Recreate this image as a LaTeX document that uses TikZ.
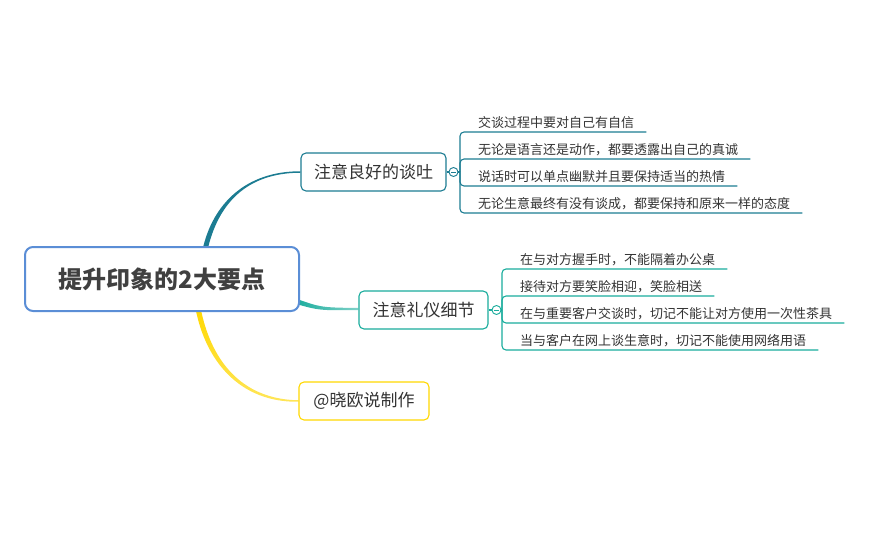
\documentclass[tikz,border=0pt]{standalone}
\usepackage{fontspec}
\setmainfont{Noto Sans CJK SC}
\usetikzlibrary{backgrounds}
\definecolor{rootblue}{HTML}{5B8ED6}
\definecolor{tone}{HTML}{1C7C92}
\definecolor{ttwo}{HTML}{19AC9C}
\definecolor{yel}{HTML}{FFD800}
\definecolor{txtc}{HTML}{333333}
\definecolor{roottxt}{HTML}{404040}
\tikzset{
  rootbox/.style={draw=rootblue, line width=2pt, fill=white, rounded corners=8pt,
    minimum width=274pt, minimum height=64pt, inner sep=0pt,
    font=\bfseries\fontsize{24}{28}\selectfont, text=roottxt},
  branchbox/.style={line width=1.1pt, fill=white, rounded corners=5pt,
    minimum height=38pt, inner sep=0pt, font=\fontsize{17}{20}\selectfont, text=txtc},
  collapse/.style={circle, fill=white, line width=0.9pt, minimum size=9pt, inner sep=0pt},
  subitem/.style={inner xsep=0pt, inner ysep=3.4pt, anchor=south west,
    font=\fontsize{13}{15}\selectfont, text=txtc},
  subline/.style={line width=1.1pt, rounded corners=4pt},
}
\begin{document}
\begin{tikzpicture}[x=1pt,y=-1pt]
\useasboundingbox (0,0) rectangle (870,540);

% nodes
\node[rootbox] (root) at (162,279) {提升印象的2大要点};
\node[branchbox, draw=tone, minimum width=145pt] (b1) at (373.5,172) {注意良好的谈吐};
\node[branchbox, draw=ttwo, minimum width=129pt] (b2) at (423.5,310) {注意礼仪细节};
\node[branchbox, draw=yel, minimum width=130pt] (b3) at (364,401) {@晓欧说制作};

% tapered branch connectors
\begin{scope}[on background layer]
\fill[tone] (202.6,249.4) .. controls (212.6,204.5) and (245,171.2) .. (b1.west |- 0,171.25)
  -- (b1.west |- 0,172.75) .. controls (245,172.8) and (217.4,205.5) .. (207.4,250.6) -- cycle;
\shade[left color=ttwo, right color=ttwo!55] (295.8,298.6) .. controls (321,307.5) .. (b2.west |- 0,308)
  -- (b2.west |- 0,310) .. controls (319,310.5) .. (294.2,303.4) -- cycle;
\shade[top color=yel, bottom color=yel!65] (195.5,308.5) .. controls (205.6,361) and (239.5,402.5) .. (b3.west |- 0,401.75)
  -- (b3.west |- 0,400.25) .. controls (240.5,399.5) and (210.4,359) .. (200.5,307.5) -- cycle;
\end{scope}

% collapse markers
\node[collapse, draw=tone] (c1) at (453.5,172) {};
\draw[tone, line width=0.8pt] ([xshift=-2.3pt]c1.center) -- ([xshift=2.3pt]c1.center);
\node[collapse, draw=ttwo] (c2) at (496.5,310) {};
\draw[ttwo, line width=0.8pt] ([xshift=-2.3pt]c2.center) -- ([xshift=2.3pt]c2.center);
\draw[tone, line width=1.1pt] (b1.east) -- (c1.west);
\draw[ttwo, line width=1.1pt] (b2.east) -- (c2.west);

\coordinate (j1) at (460,172);
\coordinate (j2) at (502,310);
\draw[tone, line width=1.1pt] (c1.east) -- (j1);
\draw[ttwo, line width=1.1pt] (c2.east) -- (j2);

% sub items branch 1
\node[subitem] (s11) at (460,132) {\hspace*{18pt}交谈过程中要对自己有自信\hspace*{12pt}};
\node[subitem] (s12) at (460,159) {\hspace*{18pt}无论是语言还是动作，都要透露出自己的真诚\hspace*{12pt}};
\node[subitem] (s13) at (460,186) {\hspace*{18pt}说话时可以单点幽默并且要保持适当的热情\hspace*{12pt}};
\node[subitem] (s14) at (460,213) {\hspace*{18pt}无论生意最终有没有谈成，都要保持和原来一样的态度\hspace*{12pt}};
\foreach \s in {s11,s12,s13,s14}
  \draw[subline, tone] (j1) -- (j1 |- \s.south) -- (\s.south east);

% sub items branch 2
\node[subitem] (s21) at (502,269) {\hspace*{18pt}在与对方握手时，不能隔着办公桌\hspace*{12pt}};
\node[subitem] (s22) at (502,296) {\hspace*{18pt}接待对方要笑脸相迎，笑脸相送\hspace*{12pt}};
\node[subitem] (s23) at (502,323) {\hspace*{18pt}在与重要客户交谈时，切记不能让对方使用一次性茶具\hspace*{12pt}};
\node[subitem] (s24) at (502,350) {\hspace*{18pt}当与客户在网上谈生意时，切记不能使用网络用语\hspace*{12pt}};
\foreach \s in {s21,s22,s23,s24}
  \draw[subline, ttwo] (j2) -- (j2 |- \s.south) -- (\s.south east);
\end{tikzpicture}
\end{document}
